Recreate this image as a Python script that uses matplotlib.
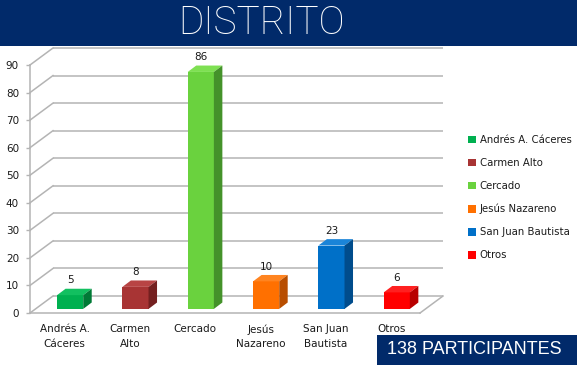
import matplotlib
matplotlib.use("Agg")
import matplotlib.pyplot as plt
from matplotlib.patches import Polygon, Rectangle, Patch

# ---------------- data ----------------
categories = ["Andrés A.\nCáceres", "Carmen\nAlto", "Cercado", "Jesús\nNazareno", "San Juan\nBautista", "Otros"]
legend_labels = ["Andrés A. Cáceres", "Carmen Alto", "Cercado", "Jesús Nazareno", "San Juan Bautista", "Otros"]
values = [5, 8, 86, 10, 23, 6]
y_ticks = [0, 10, 20, 30, 40, 50, 60, 70, 80, 90]
title = "DISTRITO"
total_label = "138 PARTICIPANTES"

front_colors = ["#00b050", "#a83434", "#6ad23e", "#ff7000", "#0070c8", "#ff0000"]
top_colors = ["#12c060", "#b84444", "#7ee052", "#ff8420", "#1a84d8", "#ff2020"]
side_colors = ["#007a36", "#742020", "#44922a", "#b84e00", "#004c8c", "#b80000"]

navy = "#012a6a"
grid_c = "#b4b4b4"
txt_c = "#1a1a1a"

W, H = 577, 367
fig = plt.figure(figsize=(W / 100, H / 100), dpi=100)
fig.patch.set_facecolor("white")

# front plane of the 3D box
ax = fig.add_axes([30 / W, (H - 313) / H, 390 / W, 248 / H])
xmin, xmax = -0.53, 5.44
ax.set_xlim(xmin, xmax)
ax.set_ylim(0, 90)
ax.set_facecolor("none")

sx = 390 / (xmax - xmin)
sy = 248 / 90.0
def dpx(px, py):
    return px / sx, py / sy

WX, WY = dpx(23, 17)        # wall depth
f0 = 0.24                   # bar front depth fraction
BX0, BY0 = f0 * WX, f0 * WY
BDX, BDY = dpx(8.5, 6.4)    # bar depth

lw = 1.1
for t in y_ticks:
    ax.plot([xmin + WX, xmax + WX], [t + WY, t + WY], color=grid_c, lw=lw,
            clip_on=False, zorder=1, solid_capstyle="butt")
    ax.plot([xmin, xmin + WX], [t, t + WY], color=grid_c, lw=lw,
            clip_on=False, zorder=1)
ax.plot([xmax, xmax + WX], [0, WY], color=grid_c, lw=lw, clip_on=False, zorder=1)

for s in ["top", "right"]:
    ax.spines[s].set_visible(False)
for s in ["left", "bottom"]:
    ax.spines[s].set_color(grid_c)
    ax.spines[s].set_linewidth(lw)

x = list(range(len(values)))
xb = [xi + BX0 for xi in x]
bw = 0.40
ax.bar(xb, values, width=bw, bottom=BY0, color=front_colors, zorder=3,
       linewidth=0)

for i, v in enumerate(values):
    x0 = xb[i] - bw / 2
    x1 = xb[i] + bw / 2
    b = BY0
    t = BY0 + v
    top = Polygon([(x0, t), (x1, t), (x1 + BDX, t + BDY), (x0 + BDX, t + BDY)],
                  closed=True, facecolor=top_colors[i], edgecolor="none", zorder=3,
                  clip_on=False)
    side = Polygon([(x1, b), (x1 + BDX, b + BDY), (x1 + BDX, t + BDY), (x1, t)],
                   closed=True, facecolor=side_colors[i], edgecolor="none", zorder=3,
                   clip_on=False)
    ax.add_patch(top)
    ax.add_patch(side)
    ax.annotate(str(v), (xb[i], t), xytext=(0, 7), textcoords="offset points",
                ha="center", va="bottom", fontsize=7.5, color=txt_c, zorder=5,
                annotation_clip=False)

ax.set_yticks(y_ticks)
ax.set_yticklabels([str(t) for t in y_ticks], fontsize=7.5, color=txt_c)
ax.tick_params(axis="y", length=3, color=grid_c, pad=5, width=1)
ax.set_xticks(x)
ax.set_xticklabels(categories, fontsize=7.5, color=txt_c, linespacing=1.6)
ax.tick_params(axis="x", length=0, pad=8)

handles = [Patch(facecolor=c, edgecolor="none") for c in front_colors]
ax.legend(handles, legend_labels, loc="upper left",
          bbox_to_anchor=(468 / W, (H - 135) / H), bbox_transform=fig.transFigure,
          frameon=False, fontsize=7.3, handlelength=0.77, handleheight=0.77,
          handletextpad=0.4, labelspacing=1.28, borderaxespad=0, borderpad=0,
          labelcolor=txt_c)

fig.patches.append(Rectangle((0, (H - 46) / H), 1, 46 / H, transform=fig.transFigure,
                             facecolor=navy, edgecolor="none", zorder=10))
fig.text(262 / W, (H - 23) / H, title, ha="center", va="center", color="white",
         fontsize=28, fontweight="light", family=["Roboto", "DejaVu Sans"], zorder=11)

fig.patches.append(Rectangle((377 / W, 2 / H), 200 / W, 30 / H, transform=fig.transFigure,
                             facecolor=navy, edgecolor="none", zorder=10))
fig.text(474 / W, 17 / H, total_label, ha="center", va="center", color="white",
         fontsize=13, family=["Liberation Sans", "DejaVu Sans"], zorder=11)

fig.savefig("out.png", dpi=100)
